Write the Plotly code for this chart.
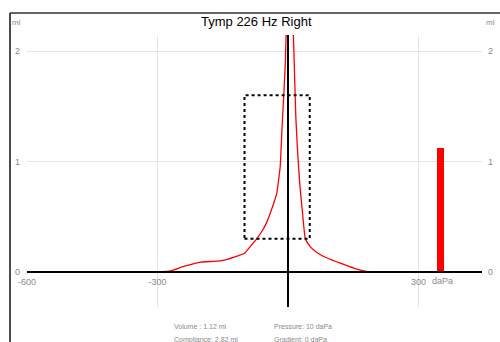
import plotly.graph_objects as go

# Tympanogram curve (pressure daPa, compliance ml)
pressure = [-300, -270, -240, -200, -156, -120, -100, -87, -72, -58, -50, -41, -33, -26, -18, -14, -10, -6, -4, 5,
            12, 15, 18, 22, 27, 33, 40, 51, 65, 82, 100, 120, 158, 185]
compliance = [0.0, 0.01, 0.05, 0.09, 0.10, 0.14, 0.17, 0.23, 0.30, 0.38, 0.44, 0.53, 0.62, 0.71, 0.95, 1.28, 1.58, 1.9, 2.2, 2.82,
              2.2, 1.8, 1.4, 1.1, 0.8, 0.55, 0.30, 0.23, 0.18, 0.14, 0.11, 0.08, 0.025, 0.0]

# Ear canal volume bar
volume_x = [350]
volume_y = [1.12]

# Normal range box
box_pressure = [-100, 50]
box_compliance = [0.3, 1.6]

x_ticks = [-600, -300, 300]
x_tick_text = ["-600", "-300", "300"]
y_ticks = [0, 1, 2]
y_tick_text = ["0", "1", "2"]
x_grid = [-300, 300]

title = "Tymp 226 Hz Right"
info = [["Volume : 1.12 ml", "Pressure: 10 daPa"],
        ["Compliance: 2.82 ml", "Gradient: 0 daPa"]]

FONT = "Liberation Sans, Arial, sans-serif"
GRAY = "#8a8a8a"

fig = go.Figure()
fig.add_trace(go.Bar(x=volume_x, y=volume_y, width=16, marker=dict(color="#ff0000", line=dict(width=0)),
                     showlegend=False, hoverinfo="skip"))
fig.add_trace(go.Scatter(x=pressure, y=compliance, mode="lines", line=dict(color="#ff0000", width=1.3, shape="spline", smoothing=0.4),
                         showlegend=False))
fig.add_trace(go.Scatter(x=[None], y=[None], yaxis="y2", showlegend=False))

XR = [-600, 446]
YR = [-0.317, 2.145]
y0_paper = (0 - YR[0]) / (YR[1] - YR[0])

fig.update_layout(
    width=500, height=342,
    margin=dict(l=27, r=18, t=35, b=35, autoexpand=False),
    paper_bgcolor="white", plot_bgcolor="white",
    font=dict(family=FONT, size=9, color=GRAY),
    xaxis=dict(range=XR, tickvals=x_ticks, ticktext=x_tick_text, showgrid=False, automargin=False,
               zeroline=True, zerolinecolor="black", zerolinewidth=1.5,
               anchor="free", position=y0_paper, showline=True, linecolor="black", linewidth=1.5,
               ticks="", ticklabelstandoff=1, tickfont=dict(size=9, color=GRAY)),
    yaxis=dict(range=YR, tickvals=y_ticks, ticktext=y_tick_text, showgrid=True, gridcolor="#e4e4e4",
               automargin=False,
               gridwidth=1, zeroline=False, ticks="", ticklabelstandoff=6, tickfont=dict(size=9, color=GRAY)),
    yaxis2=dict(range=YR, tickvals=y_ticks, ticktext=y_tick_text, overlaying="y", side="right",
                automargin=False,
                showgrid=False, zeroline=False, ticks="", ticklabelstandoff=5, tickfont=dict(size=9, color=GRAY)),
    bargap=0,
)

shapes = []
for gx in x_grid:
    shapes.append(dict(type="line", xref="x", yref="paper", x0=gx, x1=gx, y0=0, y1=1,
                       line=dict(color="#e4e4e4", width=1), layer="below"))
shapes.append(dict(type="rect", xref="x", yref="y", x0=box_pressure[0], x1=box_pressure[1],
                   y0=box_compliance[0], y1=box_compliance[1], line=dict(color="black", width=2, dash="dot")))
# frame lines
shapes.append(dict(type="line", xref="paper", yref="paper", x0=-17/455, x1=473/455, y0=294/272, y1=294/272,
                   line=dict(color="#333333", width=1.5)))
shapes.append(dict(type="line", xref="paper", yref="paper", x0=-17/455, x1=-17/455, y0=294/272, y1=-40/272,
                   line=dict(color="#111111", width=1.5)))
fig.update_layout(shapes=shapes)

ann = []
ann.append(dict(text=title, xref="paper", yref="paper", x=(256 - 27) / 455, y=(307 - 22) / 272,
                showarrow=False, font=dict(size=13, color="black", family=FONT), xanchor="center", yanchor="middle"))
ann.append(dict(text="ml", xref="paper", yref="paper", x=(16 - 27) / 455, y=(307 - 23) / 272,
                showarrow=False, font=dict(size=8, color=GRAY), xanchor="center", yanchor="middle"))
ann.append(dict(text="ml", xref="paper", yref="paper", x=(491 - 27) / 455, y=(307 - 23) / 272,
                showarrow=False, font=dict(size=8, color=GRAY), xanchor="center", yanchor="middle"))
ann.append(dict(text="daPa", xref="paper", yref="paper", x=(430 - 27) / 455, y=(307 - 281) / 272,
                showarrow=False, font=dict(size=9, color=GRAY), xanchor="left", yanchor="middle"))
for r, row in enumerate(info):
    for c, txt in enumerate(row):
        px = 172 if c == 0 else 272
        py = 326 + r * 13.5
        ann.append(dict(text=txt, xref="paper", yref="paper", x=(px - 27) / 455, y=(307 - py) / 272,
                        showarrow=False, font=dict(size=7, color=GRAY), xanchor="left", yanchor="middle"))
fig.update_layout(annotations=ann)

fig.write_html("out.html", config={"displayModeBar": False},
               post_script="document.body.style.margin='0px';document.body.style.overflow='hidden';")
